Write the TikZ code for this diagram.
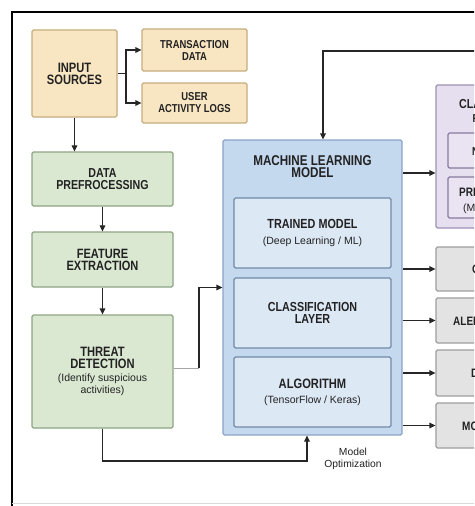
\documentclass[tikz,border=0pt]{standalone}
\usepackage{fontspec}
\setmainfont{Liberation Sans}
\newfontfamily\bfam{Liberation Sans}[FakeStretch=0.82]
\usetikzlibrary{arrows.meta}
\definecolor{txt}{HTML}{222222}
\definecolor{tanF}{HTML}{F8E6C2}
\definecolor{tanD}{HTML}{C6AD7F}
\definecolor{grnF}{HTML}{DAE8D2}
\definecolor{grnD}{HTML}{8EA385}
\definecolor{mlF}{HTML}{C4D8EE}
\definecolor{mlD}{HTML}{8AA5C6}
\definecolor{inF}{HTML}{DDE8F5}
\definecolor{inD}{HTML}{7189A8}
\definecolor{purF}{HTML}{E5DFEF}
\definecolor{purD}{HTML}{9D92B3}
\definecolor{purIF}{HTML}{E9E3F2}
\definecolor{purID}{HTML}{877AA0}
\definecolor{gryF}{HTML}{E3E3E3}
\definecolor{gryD}{HTML}{9E9E9E}
\newcommand{\bx}[2]{\bfam\bfseries\fontsize{#1}{#2}\selectfont}
\newcommand{\rg}{\mdseries\fontsize{10.5}{13.5}\selectfont}
\tikzset{
  box/.style={draw, rounded corners=1.5pt, line width=1.1pt, align=center, inner sep=0pt, text=txt},
  tanbox/.style={box, fill=tanF, draw=tanD},
  grnbox/.style={box, fill=grnF, draw=grnD},
  mlbox/.style={box, fill=mlF, draw=mlD},
  inbox/.style={box, fill=inF, draw=inD},
  purbox/.style={box, fill=purF, draw=purD},
  purin/.style={box, fill=purIF, draw=purID},
  grybox/.style={box, fill=gryF, draw=gryD},
  lbl/.style={inner sep=0pt, text=txt, align=left},
  conn/.style={line width=1.1pt, draw=black!85},
  arr/.style={conn, -{Triangle[length=6pt,width=5.5pt]}},
}
\begin{document}
\begin{tikzpicture}[x=1pt,y=-1pt]
\useasboundingbox (0,0) rectangle (474,506);
\clip (0,0) rectangle (474,506);
\fill[white] (0,0) rectangle (474,506);
% frame
\draw[line width=1.2pt, black] (490,12) -- (12,12) -- (12,510);
\draw[line width=0.8pt, black!15] (12,503) -- (490,503);

% left column
\node[tanbox, minimum width=85, minimum height=87] (input) at (74.5,73.5) {\bx{13.6}{17.5}INPUT\\\bx{13.6}{17.5}SOURCES};
\node[tanbox, minimum width=105, minimum height=42] (trans) at (194.5,50) {\bx{11.5}{13}TRANSACTION\\\bx{11.5}{13}DATA};
\node[tanbox, minimum width=105, minimum height=40] (user) at (194.5,103) {\bx{11.5}{13}USER\\\bx{11.5}{13}ACTIVITY LOGS};
\node[grnbox, minimum width=141, minimum height=54] (prep) at (102.5,179) {\bx{13}{15.5}DATA\\\bx{13}{15.5}PREFROCESSING};
\node[grnbox, minimum width=141, minimum height=55] (feat) at (102.5,259.5) {\bx{13.5}{15.5}FEATURE\\\bx{13.5}{15.5}EXTRACTION};
\node[grnbox, minimum width=141, minimum height=113] (threat) at (102.5,371.5) {\bx{13.6}{16.5}THREAT\\\bx{13.6}{16.5}DETECTION\\[1pt]\rg (Identify suspicious\\\rg activities)};

% ML model
\node[mlbox, minimum width=179, minimum height=295] (ml) at (312.5,287.5) {};
\node[lbl, align=center, anchor=north] (mlt) at (312.5,155.5) {\bx{14.2}{17.6}MACHINE LEARNING\\\bx{14.2}{17.6}MODEL};
\node[inbox, minimum width=157, minimum height=70] (trained) at (312.5,233) {\bx{13.2}{15}TRAINED MODEL\\[4pt]\rg (Deep Learning / ML)};
\node[inbox, minimum width=157, minimum height=70] (classl) at (312.5,313) {\bx{13.1}{17}CLASSIFICATION\\\bx{13.1}{17}LAYER};
\node[inbox, minimum width=157, minimum height=70] (algo) at (312.5,392) {\bx{13.6}{15}ALGORITHM\\[3pt]\rg (TensorFlow / Keras)};

% right column (cut off)
\node[purbox, minimum width=130, minimum height=143] (cl) at (501,156.5) {};
\node[lbl, anchor=base west] (clt1) at (459,108) {\bx{13}{15}CLASSIFICATION};
\node[lbl, anchor=base west] (clt2) at (472.5,122) {\bx{11.5}{13}RESULTS};
\node[purin, minimum width=106, minimum height=35] (cli1) at (501,150.5) {};
\node[lbl, anchor=base west] (cli1t) at (472,155) {\bx{11.5}{13}NORMAL};
\node[purin, minimum width=106, minimum height=41] (cli2) at (501,197.5) {};
\node[lbl, anchor=base west] (cli2t) at (459,196) {\bx{12.2}{13}PREDICTION};
\node[lbl, anchor=base west] (cli2s) at (463,211) {\rg (Malicious / Normal)};

\node[grybox, minimum width=130, minimum height=44] (g1) at (501,269) {};
\node[lbl, anchor=base west] (g1t) at (472,273) {\bx{12.2}{13}OUTPUT};
\node[grybox, minimum width=130, minimum height=45] (g2) at (501,320.5) {};
\node[lbl, anchor=base west] (g2t) at (453,325) {\bx{12.2}{13}ALERTS};
\node[grybox, minimum width=130, minimum height=46] (g3) at (501,373) {};
\node[lbl, anchor=base west] (g3t) at (471,377) {\bx{12.2}{13}DASHBOARD};
\node[grybox, minimum width=130, minimum height=45] (g4) at (501,425.5) {};
\node[lbl, anchor=base west] (g4t) at (462,430) {\bx{12.2}{13}MONITORING};

% connectors
\coordinate (br) at (126,73.5);
\draw[conn] (input.east) -- (br);
\draw[arr] (br) |- (trans.west);
\draw[arr] (br) |- (user.west);
\draw[arr] (input.south) -- (input.south |- prep.north);
\draw[arr] (prep.south) -- (feat.north);
\draw[arr] (feat.south) -- (threat.north);

\coordinate (tk) at (199,368);
\draw[line width=1pt, black!35] (threat.east |- tk) -- (tk);
\draw[arr] (tk) -- (tk |- ml.west) -- (ml.west);

\coordinate (mo) at (307,461);
\draw[arr] (threat.south) |- (mo) -- (mo |- ml.south);
\node[lbl, align=center] (mopt) at (353,459) {\fontsize{10.3}{14}\selectfont Model\\\fontsize{10.3}{14}\selectfont Optimization};

\coordinate (fbR) at (490,51);
\coordinate (fbC) at (323,51);
\draw[arr] (fbR) -- (fbC) -- (fbC |- ml.north);

\coordinate (mc) at (402,173);
\draw[arr] (ml.east |- mc) -- (cl.west |- mc);
\draw[arr] (ml.east |- g1) -- (g1.west);
\draw[arr] (ml.east |- g2) -- (g2.west);
\draw[arr] (ml.east |- g3) -- (g3.west);
\draw[arr] (ml.east |- g4) -- (g4.west);
\end{tikzpicture}
\end{document}
